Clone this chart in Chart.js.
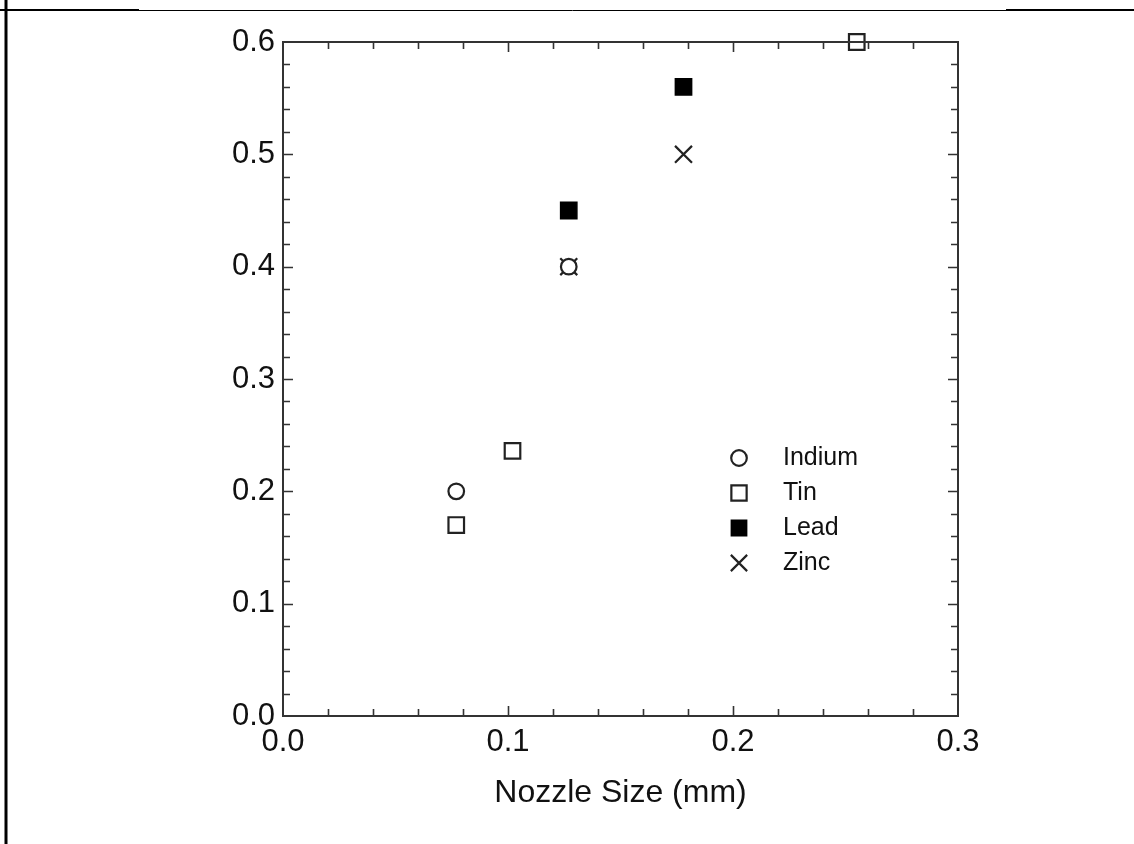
<!DOCTYPE html>
<html>
<head>
<meta charset="utf-8">
<script src="https://cdn.jsdelivr.net/npm/chart.js@4.4.0/dist/chart.umd.min.js"></script>
<style>
  html, body { margin: 0; padding: 0; background: #fff; }
  #wrap { width: 1134px; height: 844px; position: relative; }
</style>
</head>
<body>
<div id="wrap"><canvas id="myChart"></canvas></div>
<script>
  // data (nozzle size in mm)

  var indiumX = [0.077, 0.127];
  var indiumY = [0.200, 0.400];

  var tinX = [0.077, 0.102, 0.255];
  var tinY = [0.170, 0.236, 0.600];

  var leadX = [0.127, 0.178];
  var leadY = [0.450, 0.560];

  var zincX = [0.127, 0.178];
  var zincY = [0.400, 0.500];

  var seriesNames = ["Indium", "Tin", "Lead", "Zinc"];

  var xTicks = [0.0, 0.1, 0.2, 0.3];
  var yTicks = [0.0, 0.1, 0.2, 0.3, 0.4, 0.5, 0.6];

  var ink = '#111';
  var font = "'Liberation Sans', Arial, sans-serif";

  function toPoints(xs, ys) {
    return xs.map(function(x, i) { return {x: x, y: ys[i]}; });
  }

  var datasets = [
    { label: seriesNames[0], data: toPoints(indiumX, indiumY),
      pointStyle: 'circle', pointRadius: 7.8, backgroundColor: '#fff', borderColor: '#222', borderWidth: 2.2 },
    { label: seriesNames[1], data: toPoints(tinX, tinY),
      pointStyle: 'rect', pointRadius: 11, backgroundColor: '#fff', borderColor: '#222', borderWidth: 2.2 },
    { label: seriesNames[2], data: toPoints(leadX, leadY),
      pointStyle: 'rect', pointRadius: 11.5, backgroundColor: '#000', borderColor: '#000', borderWidth: 1.5 },
    { label: seriesNames[3], data: toPoints(zincX, zincY),
      pointStyle: 'crossRot', pointRadius: 12, backgroundColor: '#222', borderColor: '#222', borderWidth: 2.2 }
  ];

  // page frame lines round the figure
  var framePlugin = {
    id: 'frame',
    beforeDraw: function(chart) {
      var ctx = chart.ctx;
      ctx.save();
      ctx.strokeStyle = '#000';
      ctx.lineWidth = 3;
      ctx.beginPath();
      ctx.moveTo(6, 0); ctx.lineTo(6, 844);
      ctx.stroke();
      ctx.lineWidth = 2;
      ctx.beginPath();
      ctx.moveTo(0, 10); ctx.lineTo(139, 10);
      ctx.moveTo(1006, 10); ctx.lineTo(1134, 10);
      ctx.stroke();
      ctx.lineWidth = 1;
      ctx.beginPath();
      ctx.moveTo(139, 10.5); ctx.lineTo(1006, 10.5);
      ctx.stroke();
      ctx.restore();
    }
  };

  // box + inward ticks on all four sides
  var ticksPlugin = {
    id: 'inTicks',
    afterDatasetsDraw: function(chart) {
      var ctx = chart.ctx, a = chart.chartArea;
      var xs = chart.scales.x, ys = chart.scales.y;
      ctx.save();
      ctx.strokeStyle = '#333';
      ctx.lineWidth = 2;
      ctx.strokeRect(a.left, a.top, a.right - a.left, a.bottom - a.top);
      ctx.beginPath();
      for (var i = 1; i < 15; i++) {
        var px = Math.round(xs.getPixelForValue(i * 0.02)) + 0.5;
        var len = (i % 5 === 0) ? 10 : 7;
        ctx.moveTo(px, a.bottom); ctx.lineTo(px, a.bottom - len);
        ctx.moveTo(px, a.top); ctx.lineTo(px, a.top + len);
      }
      for (var j = 1; j < 30; j++) {
        var py = Math.round(ys.getPixelForValue(j * 0.02)) + 0.5;
        var l2 = (j % 5 === 0) ? 10 : 7;
        ctx.moveTo(a.left, py); ctx.lineTo(a.left + l2, py);
        ctx.moveTo(a.right, py); ctx.lineTo(a.right - l2, py);
      }
      ctx.lineWidth = 1.6;
      ctx.stroke();
      ctx.restore();
    }
  };

  // legend sitting inside the plot, lower right
  var legendPlugin = {
    id: 'innerLegend',
    afterDraw: function(chart) {
      var ctx = chart.ctx, a = chart.chartArea;
      var mx = a.left + 456, tx = a.left + 500, y0 = a.top + 416, step = 35;
      ctx.save();
      chart.data.datasets.forEach(function(ds, k) {
        var y = y0 + k * step;
        ctx.fillStyle = ds.backgroundColor;
        ctx.strokeStyle = ds.borderColor;
        ctx.lineWidth = ds.borderWidth;
        var r = ds.pointStyle === 'circle' ? 7.8 : (ds.pointStyle === 'crossRot' ? 11.5 : 10.8);
        Chart.helpers.drawPoint(ctx, {pointStyle: ds.pointStyle, radius: r, rotation: 0, borderWidth: ds.borderWidth}, mx, y);
        ctx.fillStyle = ink;
        ctx.font = '25px ' + font;
        ctx.textBaseline = 'middle';
        ctx.textAlign = 'left';
        ctx.fillText(ds.label, tx, y);
      });
      ctx.restore();
    }
  };

  const config = {
    type: 'scatter',
    data: { datasets: datasets },
    options: {
      responsive: true,
      maintainAspectRatio: false,
      animation: false,
      clip: false,
      layout: { padding: { top: 42, right: 176, left: 0, bottom: 0 } },
      plugins: { legend: { display: false }, tooltip: { enabled: false } },
      scales: {
        x: {
          type: 'linear', min: 0, max: 0.3,
          afterFit: function(s) { s.height = 128; },
          afterBuildTicks: function(s) { s.ticks = xTicks.map(function(v) { return {value: v}; }); },
          grid: { display: false, drawTicks: false },
          border: { display: false },
          ticks: { color: ink, padding: 8, font: { size: 31, family: font },
                   callback: function(v) { return Number(v).toFixed(1); } },
          title: { display: true, text: 'Nozzle Size (mm)', color: ink,
                   font: { size: 32, family: font }, padding: { top: 0, bottom: 32 } }
        },
        y: {
          type: 'linear', min: 0, max: 0.6,
          afterFit: function(s) { s.width = 283; },
          afterBuildTicks: function(s) { s.ticks = yTicks.map(function(v) { return {value: v}; }); },
          grid: { display: false, drawTicks: false },
          border: { display: false },
          ticks: { color: ink, padding: 8, font: { size: 31, family: font },
                   callback: function(v) { return Number(v).toFixed(1); } }
        }
      }
    },
    plugins: [framePlugin, ticksPlugin, legendPlugin]
  };

  var myChart = new Chart(document.getElementById('myChart'), config);
</script>
</body>
</html>
